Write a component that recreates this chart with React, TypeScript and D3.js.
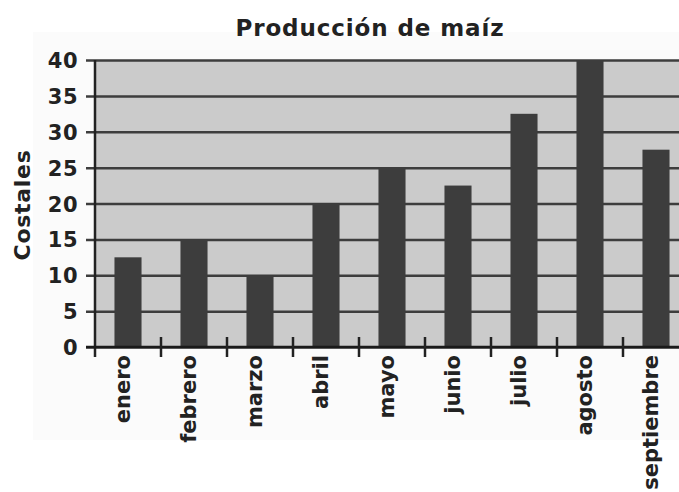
import * as d3 from 'd3';
import React, { useRef, useEffect } from 'react';

// data
const months = ['enero', 'febrero', 'marzo', 'abril', 'mayo', 'junio', 'julio', 'agosto', 'septiembre'];
const sacks = [12.5, 15, 10, 20, 25, 22.5, 32.5, 40, 27.5];
const yTicks = [0, 5, 10, 15, 20, 25, 30, 35, 40];

const W = 679;
const H = 492;

function CornChart() {
    const ref = useRef<SVGSVGElement>(null);

    useEffect(() => {
        draw();
    }, []);

    const draw = () => {
        const svg = d3.select(ref.current);
        svg.selectAll('*').remove();

        const font = "'DejaVu Sans', Verdana, sans-serif";
        const left = 95;
        const top = 60;
        const bottom = 347;
        const band = 66;

        const x = d3.scaleBand()
            .domain(months)
            .range([left, left + band * months.length])
            .padding(0);

        const y = d3.scaleLinear()
            .domain([0, 40])
            .range([bottom, top]);

        // faint outer panel
        svg.append('rect')
            .attr('x', 33).attr('y', 32)
            .attr('width', W - 33).attr('height', 440 - 32)
            .attr('fill', '#fbfbfb');

        // plot background
        svg.append('rect')
            .attr('x', left).attr('y', top)
            .attr('width', W - left).attr('height', bottom - top)
            .attr('fill', '#cbcbcb');

        // gridlines + y ticks
        const yAxis = d3.axisLeft(y)
            .tickValues(yTicks)
            .tickSize(-(W - left))
            .tickSizeOuter(0)
            .tickPadding(17);

        const yg = svg.append('g')
            .attr('transform', `translate(${left}, 0)`)
            .call(yAxis);
        yg.select('.domain').remove();
        yg.selectAll('.tick line')
            .attr('x1', -9)
            .attr('stroke', '#3d3d3d')
            .attr('stroke-width', 2.5);
        yg.selectAll('.tick text')
            .attr('fill', '#222')
            .style('font-family', font)
            .style('font-weight', 'bold')
            .style('font-size', '21px')
            .style('letter-spacing', '0.5px')
            .attr('dy', '0.36em');

        // bars
        const barW = band * 0.41;
        svg.selectAll('.bar')
            .data(months)
            .enter()
            .append('rect')
            .attr('class', 'bar')
            .attr('x', d => x(d)! + (x.bandwidth() - barW) / 2)
            .attr('y', (d, i) => y(sacks[i]))
            .attr('width', barW)
            .attr('height', (d, i) => bottom - y(sacks[i]))
            .attr('fill', '#3d3d3d');

        // y axis line
        svg.append('line')
            .attr('x1', left).attr('x2', left)
            .attr('y1', top).attr('y2', bottom + 10)
            .attr('stroke', '#222')
            .attr('stroke-width', 2.5);

        // x axis line
        svg.append('line')
            .attr('x1', left - 9).attr('x2', W)
            .attr('y1', bottom).attr('y2', bottom)
            .attr('stroke', '#1a1a1a')
            .attr('stroke-width', 2.5);

        // category boundary ticks
        svg.selectAll('.xtick')
            .data(months.slice(1))
            .enter()
            .append('line')
            .attr('class', 'xtick')
            .attr('x1', d => x(d)!).attr('x2', d => x(d)!)
            .attr('y1', bottom - 10).attr('y2', bottom + 10)
            .attr('stroke', '#222')
            .attr('stroke-width', 2.5);

        // month labels
        svg.selectAll('.xlabel')
            .data(months)
            .enter()
            .append('text')
            .attr('class', 'xlabel')
            .attr('transform', d => `translate(${x(d)! + x.bandwidth() / 2 + 2}, ${bottom + 8}) rotate(-90)`)
            .attr('text-anchor', 'end')
            .attr('fill', '#222')
            .style('font-family', font)
            .style('font-weight', 'bold')
            .style('font-size', '21px')
            .text(d => d);

        // y title
        svg.append('text')
            .attr('transform', `translate(30, 205) rotate(-90)`)
            .attr('text-anchor', 'middle')
            .attr('fill', '#222')
            .style('font-family', font)
            .style('font-weight', 'bold')
            .style('font-size', '22px')
            .style('letter-spacing', '0.7px')
            .text('Costales');

        // title
        svg.append('text')
            .attr('x', 370).attr('y', 36)
            .attr('text-anchor', 'middle')
            .attr('fill', '#222')
            .style('font-family', font)
            .style('font-weight', 'bold')
            .style('font-size', '23px')
            .style('letter-spacing', '0.9px')
            .text('Producción de maíz');
    };

    return (
        <svg ref={ref} width={W} height={H}
            style={{ position: 'absolute', left: 0, top: 0, background: '#fff' }} />
    );
}

export default function App() {
    return <CornChart />;
}
